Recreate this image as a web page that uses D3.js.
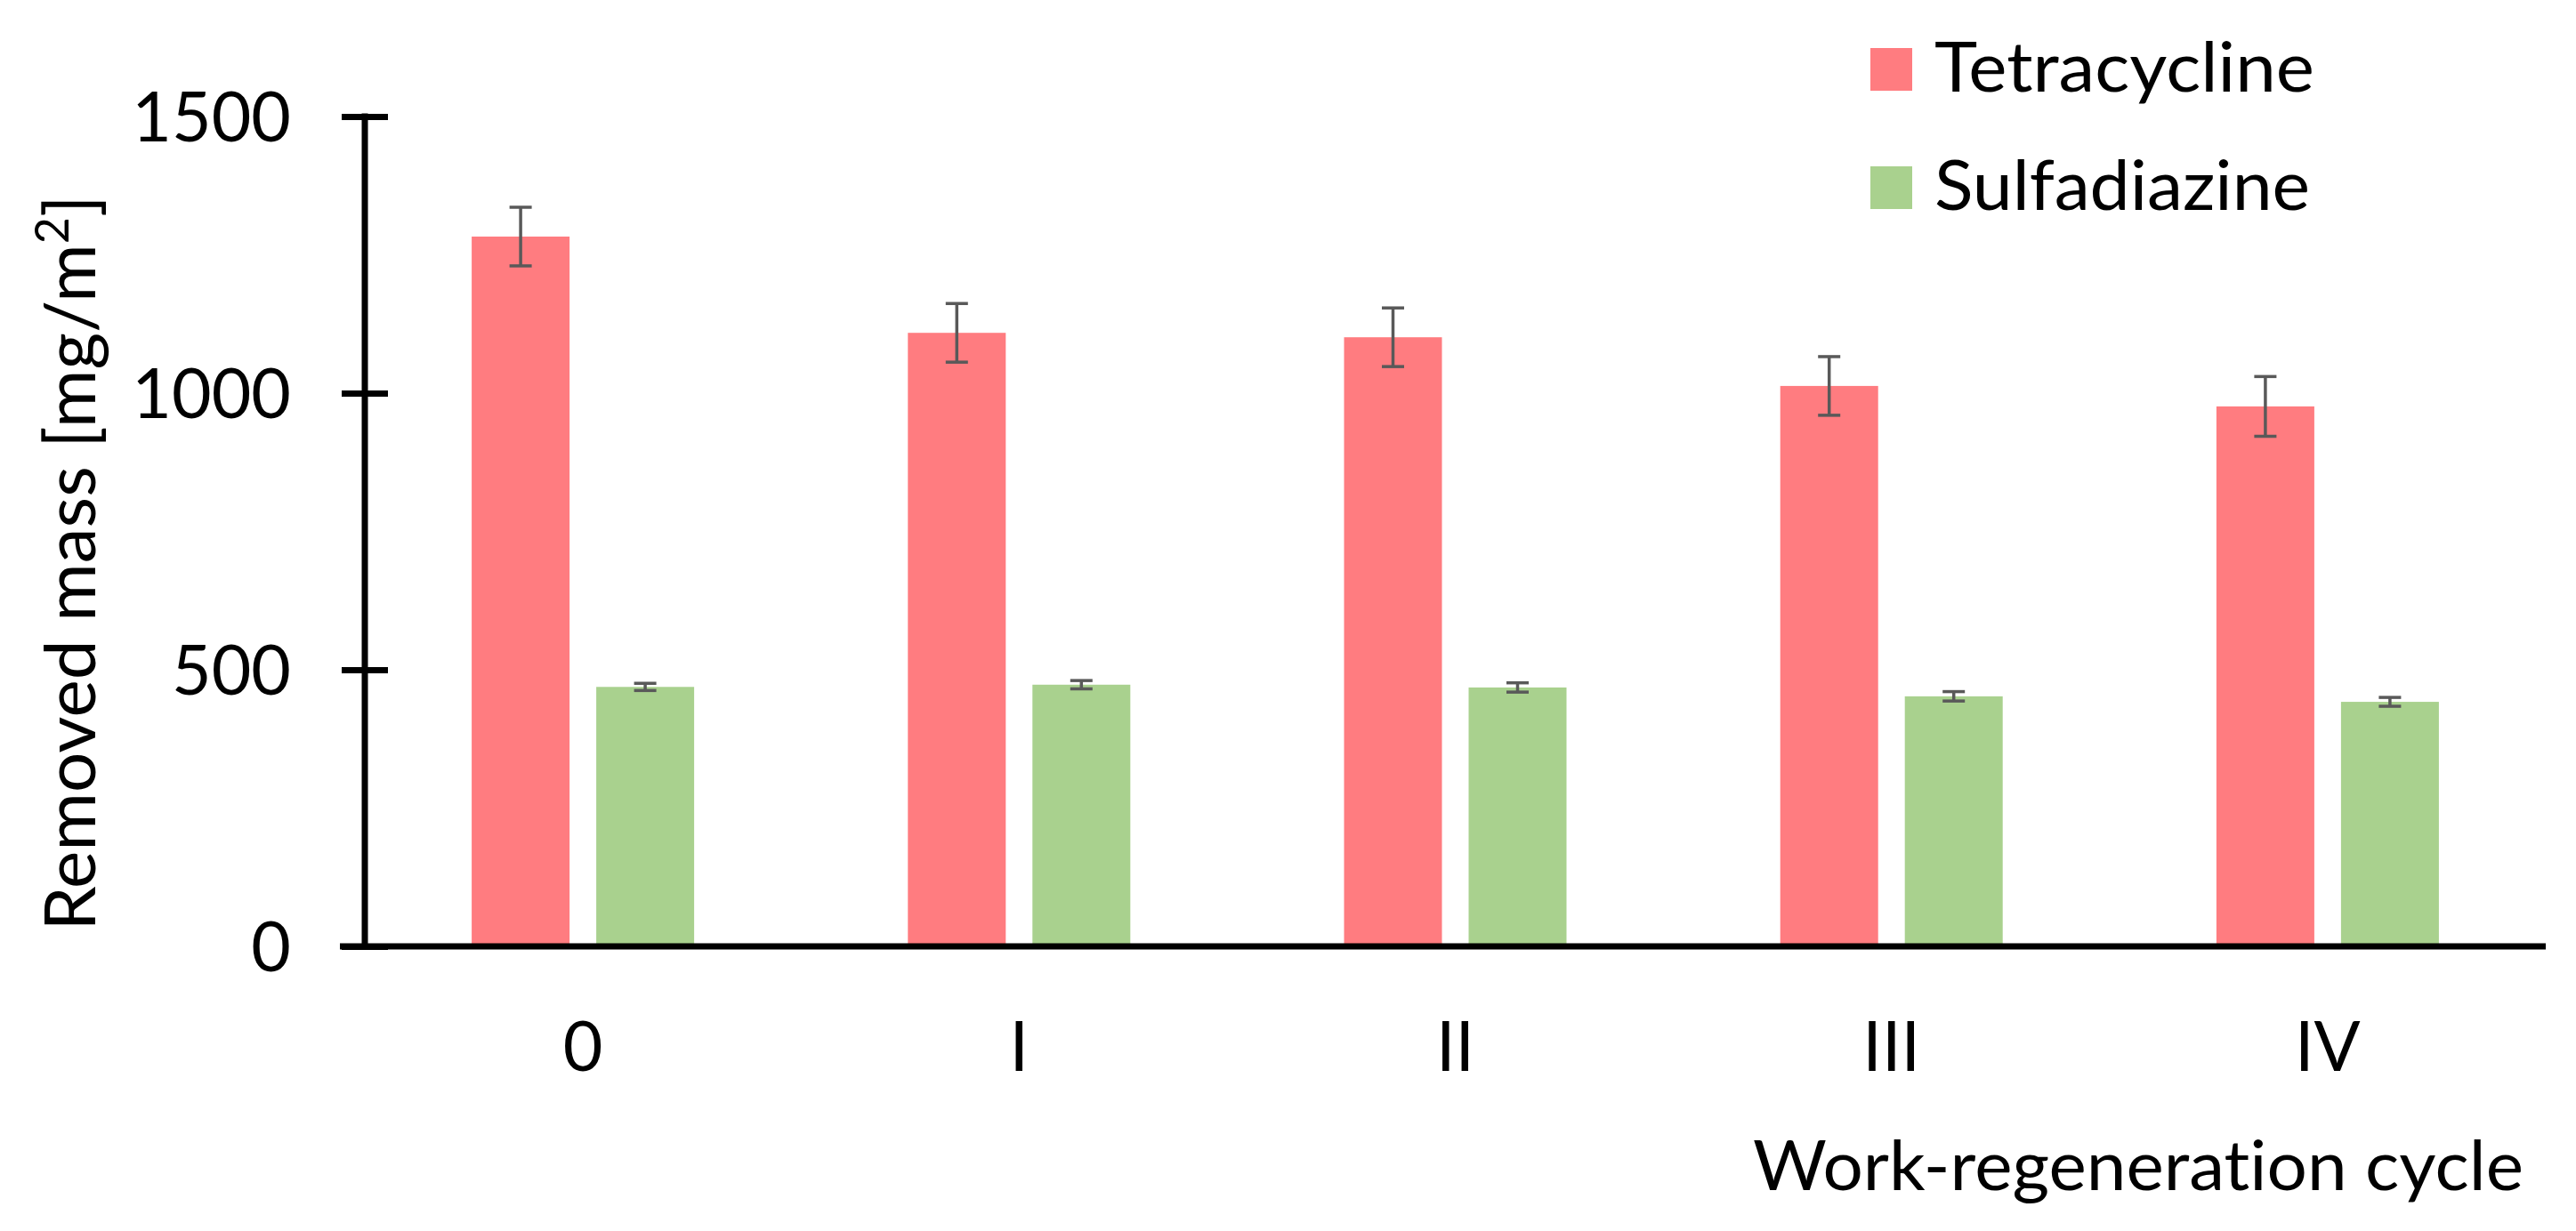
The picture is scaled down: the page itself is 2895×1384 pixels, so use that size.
<!DOCTYPE html>
<html>
<head>
<meta charset="utf-8">
<script src="https://cdn.jsdelivr.net/npm/d3@7"></script>
<style>
  html, body { margin: 0; padding: 0; background: #fff; }
  svg { display: block; }
  text { font-family: Lato, "Open Sans", sans-serif; fill: #000; font-variant-ligatures: none; font-feature-settings: "liga" 0, "dlig" 0; }
</style>
</head>
<body>
<svg id="chart" width="2895" height="1384"></svg>
<script>
// ---- data ----
const categories = ["0", "I", "II", "III", "IV"];
const seriesNames = ["Tetracycline", "Sulfadiazine"];
const tetracycline = [1283, 1109, 1101, 1013, 976];
const tetracyclineErr = [53, 53, 53, 53, 54];
const sulfadiazine = [469, 473, 468, 452, 442];
const sulfadiazineErr = [6.5, 7.5, 8.4, 8.5, 8];
const yTicks = [0, 500, 1000, 1500];
const colors = ["#FF7C80", "#A9D18E"];

const rows = categories.map((c, i) => ({
  cat: c,
  vals: [
    { s: 0, v: tetracycline[i], e: tetracyclineErr[i] },
    { s: 1, v: sulfadiazine[i], e: sulfadiazineErr[i] }
  ]
}));

const svg = d3.select("#chart");

const x0 = 410, x1 = 2861;
const yBase = 1064, yTop = 131;

const x = d3.scaleBand().domain(categories).range([x0, x1]).padding(0);
const pairW = 250;
const xi = d3.scaleBand().domain([0, 1]).range([0, pairW]).paddingInner(30 / 140).paddingOuter(0);
const y = d3.scaleLinear().domain([0, 1500]).range([yBase, yTop]);

// bars
const groups = svg.append("g").selectAll("g.grp").data(rows).join("g")
  .attr("class", "grp")
  .attr("transform", d => `translate(${x(d.cat) + (x.bandwidth() - pairW) / 2},0)`);

groups.selectAll("rect").data(d => d.vals).join("rect")
  .attr("x", d => xi(d.s))
  .attr("width", xi.bandwidth())
  .attr("y", d => y(d.v))
  .attr("height", d => y(0) - y(d.v))
  .attr("fill", d => colors[d.s]);

// error bars
const capW = 25;
const eb = groups.selectAll("g.err").data(d => d.vals).join("g").attr("class", "err")
  .attr("stroke", "#595959").attr("stroke-width", 3.5);
eb.append("line")
  .attr("x1", d => xi(d.s) + xi.bandwidth() / 2).attr("x2", d => xi(d.s) + xi.bandwidth() / 2)
  .attr("y1", d => y(d.v + d.e)).attr("y2", d => y(d.v - d.e));
eb.append("line")
  .attr("x1", d => xi(d.s) + xi.bandwidth() / 2 - capW / 2).attr("x2", d => xi(d.s) + xi.bandwidth() / 2 + capW / 2)
  .attr("y1", d => y(d.v + d.e)).attr("y2", d => y(d.v + d.e));
eb.append("line")
  .attr("x1", d => xi(d.s) + xi.bandwidth() / 2 - capW / 2).attr("x2", d => xi(d.s) + xi.bandwidth() / 2 + capW / 2)
  .attr("y1", d => y(d.v - d.e)).attr("y2", d => y(d.v - d.e));

// y axis
const yAxis = d3.axisLeft(y).tickValues(yTicks).tickSize(26).tickPadding(0).tickFormat(d3.format("d"));
const gy = svg.append("g").attr("transform", `translate(${x0},0)`).call(yAxis);
gy.select(".domain").remove();
gy.selectAll(".tick line").attr("x1", -26).attr("x2", 26).attr("stroke", "#000").attr("stroke-width", 7);
gy.selectAll(".tick text")
  .attr("x", -83).attr("dy", "0.36em")
  .style("font-size", "77px").style("font-family", "Lato, 'Open Sans', sans-serif").attr("fill", "#000");
gy.append("line").attr("x1", 0).attr("x2", 0).attr("y1", y(1500) - 3.5).attr("y2", y(0))
  .attr("stroke", "#000").attr("stroke-width", 7);

// x axis
const xAxis = d3.axisBottom(x).tickSize(0).tickPadding(0);
const gx = svg.append("g").attr("transform", `translate(0,${yBase})`).call(xAxis);
gx.select(".domain").remove();
gx.selectAll(".tick")
  .attr("transform", d => `translate(${x(d) + x.bandwidth() / 2},0)`);
gx.selectAll(".tick text")
  .attr("y", 140).attr("dy", 0)
  .style("font-size", "77px").style("font-family", "Lato, 'Open Sans', sans-serif").attr("fill", "#000");
gx.append("line").attr("x1", x0 - 28).attr("x2", x1).attr("y1", 0).attr("y2", 0)
  .attr("stroke", "#000").attr("stroke-width", 7);

// y title
const yt = svg.append("text")
  .attr("transform", "translate(107,633) rotate(-90)")
  .attr("text-anchor", "middle")
  .style("font-size", "80px");
yt.append("tspan").text("Removed mass [mg/m");
yt.append("tspan").attr("dy", -30).style("font-size", "52px").text("2");
yt.append("tspan").attr("dy", 30).text("]");

// x title
svg.append("text")
  .attr("x", 2836).attr("y", 1338)
  .attr("text-anchor", "end")
  .attr("textLength", 866).attr("lengthAdjust", "spacingAndGlyphs")
  .style("font-size", "77px")
  .text("Work-regeneration cycle");

// legend
const legendY = [54, 187];
const legendW = [427, 422];
const lg = svg.append("g").selectAll("g").data(seriesNames).join("g");
lg.append("rect")
  .attr("x", 2102).attr("y", (d, i) => legendY[i])
  .attr("width", 47).attr("height", 48)
  .attr("fill", (d, i) => colors[i]);
lg.append("text")
  .attr("x", 2174).attr("y", (d, i) => legendY[i] + 49)
  .attr("textLength", (d, i) => legendW[i]).attr("lengthAdjust", "spacingAndGlyphs")
  .style("font-size", "77px")
  .text(d => d);
</script>
</body>
</html>
